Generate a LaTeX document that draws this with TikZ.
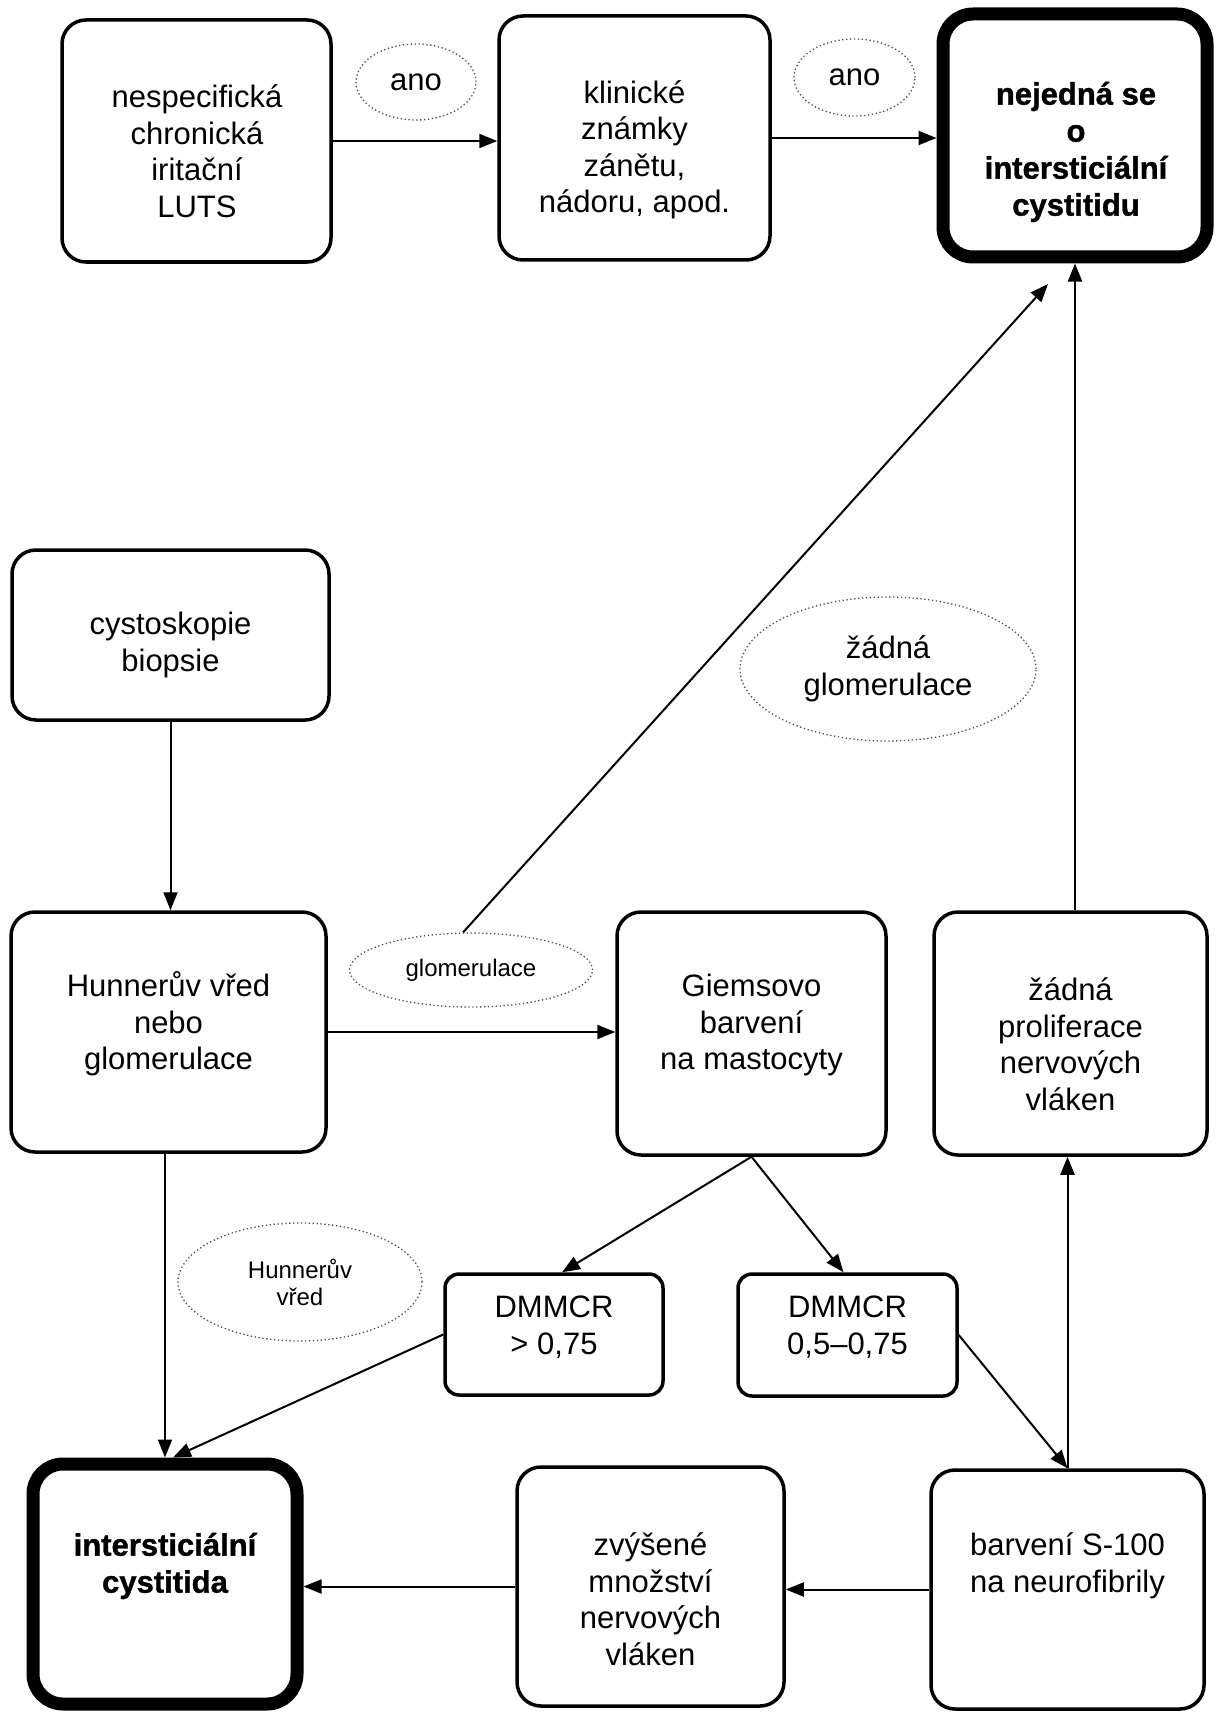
\documentclass[tikz,border=0pt]{standalone}
\usepackage{fontspec}
\setmainfont{Liberation Sans}
\newfontfamily\heavyfont[FakeBold=1.2]{Liberation Sans Bold}
\usetikzlibrary{arrows.meta,shapes.geometric}
\begin{document}
\begin{tikzpicture}[x=1pt,y=-1pt,
 box/.style={draw=black, line width=3.5pt, rounded corners=24pt, fill=white, inner sep=0pt},
 sbox/.style={box, rounded corners=14pt},
 tbox/.style={box, line width=13pt, rounded corners=30pt},
 txt/.style={align=center, font=\fontsize{31}{36.5}\selectfont, inner sep=0pt},
 btxt/.style={align=center, font=\fontsize{31}{37}\selectfont\heavyfont, inner sep=0pt},
 oval/.style={ellipse, draw=black!70, dash pattern=on 1.3pt off 2.6pt, line width=1.3pt, inner sep=0pt, align=center},
 arr/.style={line width=2pt, -{Triangle[length=18pt,width=14pt]}},
]
\useasboundingbox (0,0) rectangle (1219,1712);

% boxes
\node[box, minimum width=269pt, minimum height=242pt] (b1) at (196.5,141) {};
\node[box, minimum width=271pt, minimum height=244pt] (b2) at (634.5,138) {};
\node[tbox, minimum width=264pt, minimum height=243pt] (b3) at (1075,135.5) {};
\node[box, minimum width=317pt, minimum height=170pt] (b4) at (170.5,635) {};
\node[box, minimum width=315pt, minimum height=240pt] (b5) at (168.5,1032) {};
\node[box, minimum width=269pt, minimum height=243pt] (b6) at (751.5,1033.5) {};
\node[box, minimum width=273pt, minimum height=243pt] (b7) at (1070.5,1033.5) {};
\node[sbox, minimum width=218pt, minimum height=121pt] (b8) at (554,1334.5) {};
\node[sbox, minimum width=219pt, minimum height=122pt] (b9) at (847.5,1335) {};
\node[tbox, minimum width=264pt, minimum height=240pt] (b10) at (165,1584) {};
\node[box, minimum width=267pt, minimum height=239pt] (b11) at (650.5,1586.5) {};
\node[box, minimum width=273pt, minimum height=239pt] (b12) at (1067.5,1589.5) {};

% texts
\node[txt] (t1) at (197,151) {nespecifická\\chronická\\iritační\\LUTS};
\node[txt] (t2) at (634.5,150) {klinické\\známky\\zánětu,\\nádoru, apod.};
\node[btxt] (t3) at (1076,152) {nejedná se\\o\\intersticiální\\cystitidu};
\node[txt] (t4) at (170.5,645) {cystoskopie\\biopsie};
\node[txt] (t5) at (168.5,1024) {Hunnerův vřed\\nebo\\glomerulace};
\node[txt] (t6) at (751.5,1025) {Giemsovo\\barvení\\na mastocyty};
\node[txt] (t7) at (1070.5,1044) {žádná\\proliferace\\nervových\\vláken};
\node[txt] (t8) at (554,1327) {DMMCR\\> 0,75};
\node[txt] (t9) at (847.5,1327) {DMMCR\\0,5–0,75};
\node[btxt] (t10) at (165,1566) {intersticiální\\cystitida};
\node[txt] (t11) at (650.5,1599) {zvýšené\\množství\\nervových\\vláken};
\node[txt] (t12) at (1067.5,1566) {barvení S-100\\na neurofibrily};

% ovals
\node[oval, minimum width=120pt, minimum height=76pt, font=\fontsize{31}{36.5}\selectfont] (e1) at (416,82) {ano};
\node[oval, minimum width=121pt, minimum height=77pt, font=\fontsize{31}{36.5}\selectfont] (e2) at (854.5,77.5) {ano};
\node[oval, minimum width=243pt, minimum height=74pt, font=\fontsize{24}{27}\selectfont] (e3) at (471,970) {glomerulace};
\node[oval, minimum width=296pt, minimum height=144pt, font=\fontsize{31}{36.5}\selectfont] (e4) at (888,669) {žádná\\glomerulace};
\node[oval, minimum width=244pt, minimum height=118pt, font=\fontsize{24}{27}\selectfont] (e5) at (300,1282) {Hunnerův\\vřed};

% connectors
\coordinate (c1) at (1048,284);
\draw[arr] (b1.east) -- (b1.east -| b2.west);
\draw[arr] (b2.east) -- (b2.east -| b3.west);
\draw[arr] (b4.south) -- (b4.south |- b5.north);
\draw[arr] (b5.east) -- (b5.east -| b6.west);
\draw[arr] (e3.102) -- (c1);
\draw[arr] (b3.south |- b7.north) -- (b3.south);
\draw[arr] (b6.south) -- ([xshift=8pt]b8.north);
\draw[arr] (b6.south) -- ([xshift=-4pt]b9.north);
\draw[arr] (b5.south -| b10.north) -- (b10.north);
\draw[arr] (b8.west) -- ([xshift=8pt]b10.north);
\draw[arr] (b9.east) -- (b12.north);
\draw[arr] (b12.north) -- (b12.north |- b7.south);
\draw[arr] (b12.west) -- (b12.west -| b11.east);
\draw[arr] (b11.west) -- (b11.west -| b10.east);
\end{tikzpicture}
\end{document}
